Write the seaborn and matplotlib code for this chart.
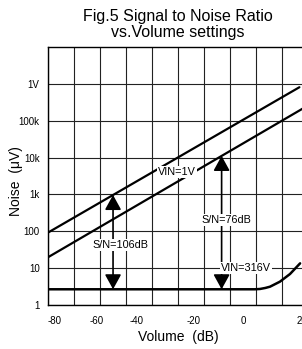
import numpy as np
import matplotlib
matplotlib.use("Agg")
import matplotlib.pyplot as plt
import seaborn as sns

# curves (volume dB -> noise uV)
upper_x = [-83.0, 24.0]
upper_y = [92, 8.1e5]
lower_x = [-83.0, 25.5]
lower_y = [19.7, 2.15e5]
floor_x = [-83.0, 5.0, 7.2, 9.5, 11.5, 15.7, 20.0, 24.3]
floor_y = [2.67, 2.67, 2.72, 2.9, 3.14, 4.29, 6.93, 13.5]

# S/N arrows
sn_x = [-55.3, -9.1]
sn_text = ['S/N=106dB', 'S/N=76dB']

xtick_labels = ['-80', '-60', '-40', '-20', '0', '20']
ytick_vals = [1, 10, 100, 1e3, 1e4, 1e5, 1e6]
ytick_labels = ['1', '10', '100', '1k', '10k', '100k', '1V']

sns.set_style("white")
plt.rcParams['font.family'] = ['Liberation Sans', 'DejaVu Sans']
plt.rcParams['text.color'] = 'k'
plt.rcParams['axes.labelcolor'] = 'k'
plt.rcParams['xtick.color'] = 'k'
plt.rcParams['ytick.color'] = 'k'

fig = plt.figure(figsize=(3.02, 3.49), dpi=100)
ax = fig.add_axes([48/302, 44/349, 260/302, 258/349])

X0, X1 = -82.98, 27.66
ax.set_yscale('log')

sns.lineplot(x=upper_x, y=upper_y, color='k', lw=1.6, ax=ax, zorder=3)
sns.lineplot(x=lower_x, y=lower_y, color='k', lw=1.6, ax=ax, zorder=3)
sns.lineplot(x=floor_x, y=floor_y, color='k', lw=1.8, ax=ax, zorder=3)

ax.set_xlim(X0, X1)
ax.set_ylim(1, 1e7)

# grid
ax.set_xticks(np.linspace(X0, X1, 11), minor=True)
ax.set_xticks([-80, -62.1, -45.1, -20.9, 0, 25.1])
ax.set_xticklabels(xtick_labels)
ax.set_yticks(ytick_vals)
ax.set_yticklabels(ytick_labels)
ax.yaxis.set_minor_locator(matplotlib.ticker.NullLocator())
ax.grid(False)
ax.grid(True, which='minor', axis='x', color='#222222', lw=0.8)
ax.grid(True, which='major', axis='y', color='#222222', lw=0.8)
ax.tick_params(which='both', length=0, labelsize=7)
ax.tick_params(axis='y', pad=6)
ax.tick_params(axis='x', pad=8)
for s in ax.spines.values():
    s.set_color('k')
    s.set_linewidth(1.0)

# arrows
lines = {'upper': (upper_x, upper_y), 'lower': (lower_x, lower_y)}
for xv, key in zip(sn_x, ['upper', 'lower']):
    lx, ly = lines[key]
    top = 10 ** np.interp(xv, lx, np.log10(ly))
    bot = floor_y[0]
    ax.annotate('', xy=(xv, top), xytext=(xv, bot),
                arrowprops=dict(arrowstyle='<|-|>, head_length=0.6, head_width=0.33',
                                color='k', lw=1.2, mutation_scale=15,
                                shrinkA=0, shrinkB=0), zorder=4)

box = dict(facecolor='white', edgecolor='none', pad=1.0)
ax.text(-52.3, 42.5, sn_text[0], fontsize=7.8, ha='center', va='center', bbox=box, zorder=6)
ax.text(-6.9, 202, sn_text[1], fontsize=7.8, ha='center', va='center', bbox=box, zorder=6)
ax.text(-28.1, 4060, 'VIN=1V', fontsize=7.8, ha='center', va='center', bbox=box, zorder=6)
ax.text(1.3, 10.1, 'VIN=316V', fontsize=7.8, ha='center', va='center', bbox=box, zorder=6)

ax.set_title('Fig.5 Signal to Noise Ratio\nvs.Volume settings', fontsize=11.5, pad=7, linespacing=1.1)
ax.set_xlabel('Volume  (dB)', fontsize=10)
ax.set_ylabel('Noise  (\u03bcV)', fontsize=10)
ax.xaxis.set_label_coords(0.5, -0.095)
ax.yaxis.set_label_coords(-0.096, 0.48)

fig.savefig('out.png', dpi=100)
